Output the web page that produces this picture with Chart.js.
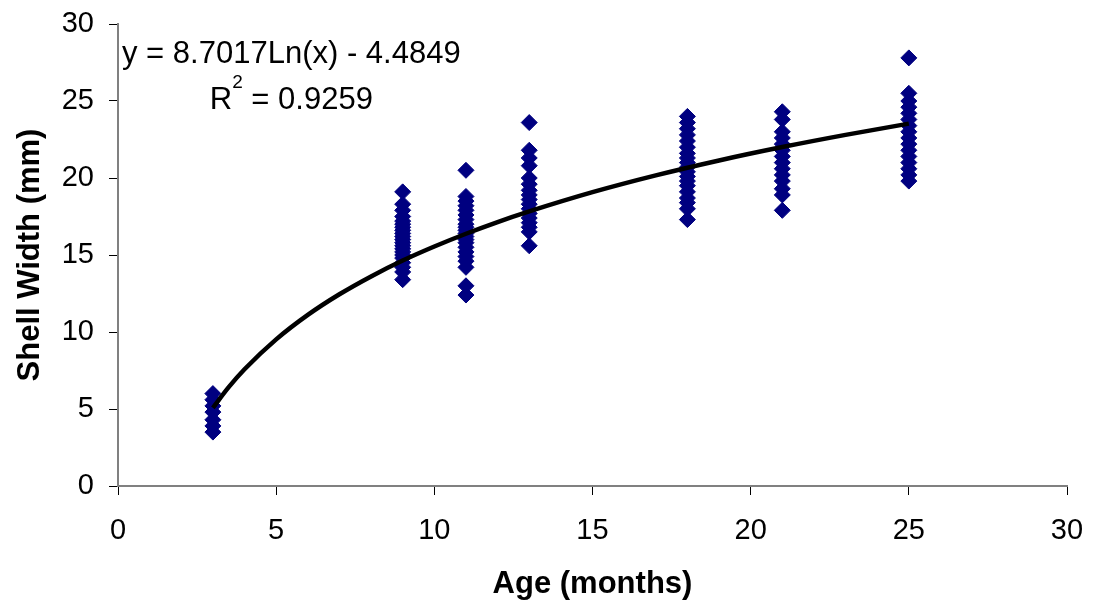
<!DOCTYPE html>
<html>
<head>
<meta charset="utf-8">
<script src="https://cdn.jsdelivr.net/npm/chart.js@4/dist/chart.umd.min.js"></script>
<style>
html,body{margin:0;padding:0;background:#fff;}
#wrap{width:1094px;height:606px;}
</style>
</head>
<body>
<div id="wrap"><canvas id="c" width="1094" height="606"></canvas></div>
<script>
// Observed data: age (months) and shell widths (mm)
const age3  = [3.5, 3.9, 4.3, 4.8, 5.2, 5.6, 6.0];
const age9  = [19.1, 18.3, 17.9, 17.5, 17.2, 17.0, 16.8, 16.6, 16.4, 16.2, 16.0, 15.8, 15.6, 15.4, 15.2, 15.0, 14.8, 14.5, 14.2, 13.9, 13.4];
const age11 = [20.5, 18.8, 18.5, 18.2, 17.9, 17.6, 17.3, 17.0, 16.8, 16.6, 16.4, 16.2, 16.0, 15.8, 15.5, 15.2, 14.9, 14.6, 14.2, 13.0, 12.4];
const age13 = [23.6, 21.8, 21.3, 20.8, 20.0, 19.6, 19.2, 18.9, 18.6, 18.3, 18.0, 17.7, 17.4, 17.1, 16.8, 16.5, 15.6];
const age18 = [24.0, 23.6, 23.2, 22.8, 22.4, 22.0, 21.6, 21.3, 21.0, 20.7, 20.4, 20.1, 19.8, 19.5, 19.1, 18.7, 18.4, 18.0, 17.3];
const age21 = [24.3, 23.8, 23.0, 22.6, 22.2, 21.8, 21.4, 21.0, 20.6, 20.2, 19.8, 19.3, 18.9, 17.9];
const age25 = [27.8, 25.5, 25.0, 24.6, 24.2, 23.8, 23.4, 23.0, 22.6, 22.2, 21.8, 21.4, 21.0, 20.6, 20.2, 19.8];
const ages = [3, 9, 11, 13, 18, 21, 25];
const widthGroups = [age3, age9, age11, age13, age18, age21, age25];

// Trend line points
const trendX = [3, 3.5, 4, 5, 6, 7, 8, 9, 10, 11, 12, 13, 15, 17, 19, 21, 23, 25];
const trendY = [5.08, 6.42, 7.58, 9.52, 11.11, 12.45, 13.61, 14.64, 15.55, 16.38, 17.14, 17.83, 19.08, 20.17, 21.14, 22.01, 22.80, 23.53];

const xTicks = [0, 5, 10, 15, 20, 25, 30];
const yTicks = [0, 5, 10, 15, 20, 25, 30];
const equationText = 'y = 8.7017Ln(x) - 4.4849';
const r2Value = ' = 0.9259';

const scatterPts = [];
ages.forEach((a, i) => widthGroups[i].forEach(v => scatterPts.push({x: a, y: v})));
const trendPts = trendX.map((x, i) => ({x: x, y: trendY[i]}));

const FONT = '"Liberation Sans", Arial, sans-serif';

const eqPlugin = {
  id: 'eq',
  afterDraw(chart) {
    const ctx = chart.ctx;
    ctx.save();
    ctx.fillStyle = '#000';
    ctx.textBaseline = 'alphabetic';
    ctx.textAlign = 'left';
    ctx.font = '31px ' + FONT;
    ctx.fillText(equationText, 122, 63);
    const eqW = ctx.measureText(equationText).width;
    const rw = ctx.measureText('R').width;
    const vw = ctx.measureText(r2Value).width;
    ctx.font = '19px ' + FONT;
    const sw = ctx.measureText('2').width;
    const total = rw + sw + vw;
    const startX = 122 + eqW / 2 - total / 2;
    ctx.fillText('2', startX + rw, 88);
    ctx.font = '31px ' + FONT;
    ctx.fillText('R', startX, 109);
    ctx.fillText(r2Value, startX + rw + sw, 109);
    ctx.restore();
  }
};

new Chart(document.getElementById('c'), {
  type: 'scatter',
  data: {
    datasets: [
      {
        type: 'line',
        data: trendPts,
        borderColor: '#000',
        borderWidth: 4.5,
        pointRadius: 0,
        tension: 0.4,
        cubicInterpolationMode: 'monotone',
        fill: false,
        order: 0
      },
      {
        data: scatterPts,
        pointStyle: 'rectRot',
        pointRadius: 8,
        pointBackgroundColor: '#000080',
        pointBorderColor: '#000080',
        pointBorderWidth: 1,
        order: 1
      }
    ]
  },
  options: {
    responsive: false,
    animation: false,
    devicePixelRatio: 1,
    layout: {padding: {top: 24, right: 27, bottom: 0, left: 0}},
    plugins: {legend: {display: false}, tooltip: {enabled: false}},
    scales: {
      x: {
        type: 'linear',
        min: 0, max: 30,
        afterBuildTicks: s => { s.ticks = xTicks.map(v => ({value: v})); },
        afterFit: s => { s.height = 120; s.paddingLeft = 0; s.paddingRight = 0; },
        grid: {drawOnChartArea: false, drawTicks: true, tickLength: 9, color: '#000', lineWidth: 1},
        border: {display: true, color: '#808080', width: 2},
        ticks: {color: '#000', font: {family: FONT, size: 29}, padding: 19, maxRotation: 0},
        title: {display: true, text: 'Age (months)', color: '#000', font: {family: FONT, size: 31, weight: 'bold'}, padding: {top: 0, bottom: 3}}
      },
      y: {
        type: 'linear',
        min: 0, max: 30,
        afterBuildTicks: s => { s.ticks = yTicks.map(v => ({value: v})); },
        afterFit: s => { s.width = 118; s.paddingTop = 0; s.paddingBottom = 0; },
        grid: {drawOnChartArea: false, drawTicks: true, tickLength: 9, color: '#000', lineWidth: 1},
        border: {display: true, color: '#808080', width: 2},
        ticks: {color: '#000', font: {family: FONT, size: 29}, padding: 15},
        title: {display: true, text: 'Shell Width (mm)', color: '#000', font: {family: FONT, size: 31, weight: 'bold'}, padding: {top: 12, bottom: 0}}
      }
    }
  },
  plugins: [eqPlugin]
});
</script>
</body>
</html>
